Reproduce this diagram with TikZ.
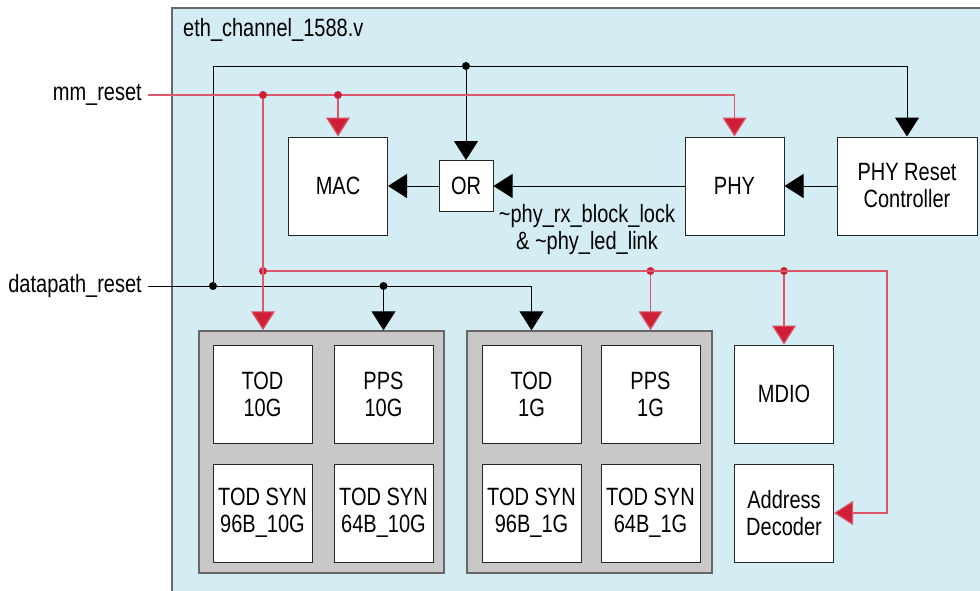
\documentclass[tikz,border=0pt]{standalone}
\usepackage{fontspec}
\setmainfont{Liberation Sans}[FakeStretch=0.8]
\usepackage{tikz}
\usetikzlibrary{arrows.meta}
\usetikzlibrary{positioning}
\definecolor{chanblue}{HTML}{D4ECF3}
\definecolor{rstred}{HTML}{CF1F37}
\definecolor{grpgray}{HTML}{C8C8C8}

\begin{document}
\begin{tikzpicture}[x=1pt,y=-1pt,font=\fontsize{25}{27}\selectfont]
\tikzstyle{blk}=[draw=black!85, fill=white, line width=1pt, minimum width=99pt,
  minimum height=98pt, align=center, inner sep=0pt]
\tikzstyle{grp}=[draw=black!60, fill=grpgray, line width=1.5pt, minimum width=245pt,
  minimum height=242pt]
\tikzstyle{lbl}=[inner sep=0pt, align=center]
\tikzstyle{mmrst}=[draw=rstred!75, line width=1.2pt,
  -{Triangle[length=19pt,width=24pt,fill=rstred]}]
\tikzstyle{dprst}=[draw=black, line width=1pt, -{Triangle[length=19pt,width=24pt]}]
\tikzstyle{rdot}=[circle, fill=rstred, inner sep=0pt, minimum size=8pt]
\tikzstyle{bdot}=[circle, fill=black, inner sep=0pt, minimum size=8pt]
	\useasboundingbox (0,0) rectangle (980,590);
	
	% channel
	\draw [draw=black!60, fill=chanblue, line width=1.5pt] (172,8) rectangle (1010,620);
	\node [lbl, anchor=west] (title) at (183,30) {eth\_channel\_1588.v};
	
	% top row
	\node [blk] (mac) at (338,186) {MAC};
	\node [blk, minimum width=54pt, minimum height=51pt] (or) at (466,186) {OR};
	\node [blk] (phy) at (734.5,186) {PHY};
	\node [blk, minimum width=140pt] (prc) at (907,186) {PHY Reset\\Controller};
	\node [lbl] (lnk) at (587,230) {\textasciitilde phy\_rx\_block\_lock\\
		\& \textasciitilde phy\_led\_link};
	
	% 10G and 1G blocks
	\node [grp] (g10) at (321.5,452) {};
	\node [grp] (g1) at (589.5,452) {};
	\node [blk] (tod10) at (262.5,394) {TOD\\10G};
	\node [blk, right = 21pt of tod10] (pps10) {PPS\\10G};
	\node [blk, below = 20pt of tod10] (syn96x) {TOD SYN\\96B\_10G};
	\node [blk, below = 20pt of pps10] (syn64x) {TOD SYN\\64B\_10G};
	\node [blk] (tod1) at (531.5,394) {TOD\\1G};
	\node [blk, right = 19pt of tod1] (pps1) {PPS\\1G};
	\node [blk, below = 20pt of tod1] (syn96g) {TOD SYN\\96B\_1G};
	\node [blk, below = 20pt of pps1] (syn64g) {TOD SYN\\64B\_1G};
	\node [blk] (mdio) at (784,394) {MDIO};
	\node [blk, below = 20pt of mdio] (addr) {Address\\Decoder};
	
	% inputs
	\node [lbl, anchor=east] (mm) at (142,95) {mm\_reset};
	\node [lbl, anchor=east] (dp) at (142,286) {datapath\_reset};
	\coordinate (mmin) at (148,95);
	\coordinate (dpin) at (148,286);
	
	% datapath_reset
	\draw [dprst] (dpin) -| (tod1.north |- g1.north);
	\node [bdot] (d1) at (213,286) {};
	\node [bdot] (d2) at (pps10.north |- dpin) {};
	\node [bdot] (b1) at (or.north |- 0,66) {};
	\draw [dprst] (d1) |- (b1) -| (prc.north);
	\draw [dprst] (b1) -- (or.north);
	\draw [dprst] (d2) -- (pps10.north |- g10.north);
	
	% mm_reset
	\draw [mmrst] (mmin) -| (phy.north);
	\node [rdot] (m1) at (263,95) {};
	\node [rdot] (m2) at (mac.north |- mmin) {};
	\node [rdot] (m3) at (263,271) {};
	\coordinate (rc) at (887,271);
	\node [rdot] (m4) at (pps1.north |- m3) {};
	\node [rdot] (m5) at (mdio.north |- m3) {};
	\draw [mmrst] (m2) -- (mac.north);
	\draw [mmrst] (m1) -- (m1 |- g10.north);
	\draw [mmrst] (m3) -- (rc) |- (addr.east);
	\draw [mmrst] (m4) -- (pps1.north |- g1.north);
	\draw [mmrst] (m5) -- (mdio.north);
	
	% PHY path
	\draw [dprst] (prc.west) -- (phy.east);
	\draw [dprst] (phy.west) -- (or.east);
	\draw [dprst] (or.west) -- (mac.east);
\end{tikzpicture}
\end{document}
